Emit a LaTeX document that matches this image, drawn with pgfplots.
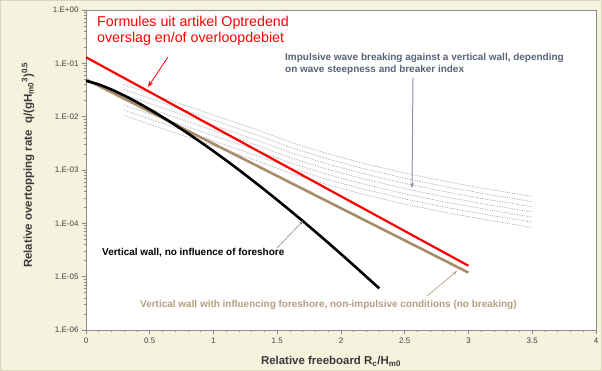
\documentclass[border=0pt]{standalone}
\usepackage{pgfplots}
\pgfplotsset{compat=1.18}
\usetikzlibrary{arrows.meta}
\usepackage{fontspec}
\setmainfont{Liberation Sans}
\definecolor{bgcol}{HTML}{F5F3DE}
\definecolor{bgline}{HTML}{D9D6BC}
\definecolor{axgrey}{HTML}{8C8C8C}
\definecolor{tickgrey}{HTML}{404040}
\definecolor{labgrey}{HTML}{3A3A3A}
\definecolor{dotgrey}{HTML}{9CA2AE}
\definecolor{brownline}{HTML}{A88D68}
\definecolor{browntext}{HTML}{B59F80}
\definecolor{bluegrey}{HTML}{5A6478}
\definecolor{arrowgrey}{HTML}{8B95A5}
\begin{document}
\begin{tikzpicture}
\fill[bgcol] (-86bp,-41bp) rectangle (516bp,330bp);
\draw[bgline, line width=0.8bp] (-85.6bp,-40.6bp) rectangle (515.6bp,329.6bp);
\begin{axis}[
  at={(0bp,0bp)}, anchor=south west,
  scale only axis, width=510bp, height=320bp,
  xmin=0, xmax=4, ymin=1e-6, ymax=1, ymode=log,
  axis background/.style={fill=white},
  axis line style={draw=axgrey, line width=0.8bp},
  xtick={0,0.5,1,1.5,2,2.5,3,3.5,4},
  xticklabels={0,0.5,1,1.5,2,2.5,3,3.5,4},
  minor x tick num=4,
  ytick={1e-6,1e-5,1e-4,1e-3,1e-2,1e-1,1},
  yticklabels={1.E-06,1.E-05,1.E-04,1.E-03,1.E-02,1.E-01,1.E+00},
  tick align=outside, tick pos=left,
  major tick length=4bp, minor tick length=2bp,
  tick style={draw=axgrey, line width=0.6bp},
  ticklabel style={font=\fontsize{8}{9}\selectfont, text=tickgrey},
  /pgf/number format/assume math mode=true,
]
% impulsive wave breaking (dotted)
\addplot[dotgrey, densely dotted, line width=0.7bp] coordinates {(0.3,0.0402) (1.35,0.00556) (1.6,0.00334) (1.9,0.00200) (2.2,0.00129) (2.5,0.000875) (2.8,0.000622) (3.15,0.000438) (3.5,0.000319)};
\addplot[dotgrey, densely dotted, line width=0.7bp] coordinates {(0.3,0.0322) (1.35,0.00445) (1.6,0.00267) (1.9,0.00160) (2.2,0.00103) (2.5,0.000700) (2.8,0.000498) (3.15,0.000350) (3.5,0.000255)};
\addplot[dotgrey, densely dotted, line width=0.7bp] coordinates {(0.3,0.0257) (1.35,0.00356) (1.6,0.00214) (1.9,0.00128) (2.2,0.000826) (2.5,0.000560) (2.8,0.000398) (3.15,0.000280) (3.5,0.000204)};
\addplot[dotgrey, densely dotted, line width=0.7bp] coordinates {(0.3,0.0206) (1.35,0.00285) (1.6,0.00171) (1.9,0.00102) (2.2,0.000660) (2.5,0.000448) (2.8,0.000318) (3.15,0.000224) (3.5,0.000163)};
\addplot[dotgrey, densely dotted, line width=0.7bp] coordinates {(0.3,0.0165) (1.35,0.00228) (1.6,0.00137) (1.9,0.00082) (2.2,0.000529) (2.5,0.000359) (2.8,0.000255) (3.15,0.000180) (3.5,0.000131)};
\addplot[dotgrey, densely dotted, line width=0.7bp] coordinates {(0.3,0.0132) (1.35,0.00182) (1.6,0.00110) (1.9,0.000656) (2.2,0.000423) (2.5,0.000287) (2.8,0.000204) (3.15,0.000144) (3.5,0.000105)};
\addplot[dotgrey, densely dotted, line width=0.7bp] coordinates {(0.3,0.0105) (1.35,0.00146) (1.6,0.000875) (1.9,0.000524) (2.2,0.000338) (2.5,0.000229) (2.8,0.000163) (3.15,0.000115) (3.5,0.0000836)};
% vertical wall with foreshore (brown)
\addplot[brownline, line width=2.6bp] coordinates {(0,0.05) (3,0.0000119)};
% vertical wall, no foreshore (black)
\addplot[black, line width=2.6bp] coordinates {(0,0.047) (0.1,0.04036) (0.2,0.03231) (0.3,0.02491) (0.4,0.01868) (0.5,0.01369) (0.6,0.009846) (0.7,0.006961) (0.8,0.004847) (0.9,0.003328) (1.0,0.002256) (1.1,0.001512) (1.2,0.001002) (1.3,0.000656) (1.4,0.000426) (1.5,0.000274) (1.6,0.0001747) (1.7,0.0001106) (1.8,0.0000693) (1.9,0.0000431) (2.0,0.0000266) (2.1,0.0000163) (2.2,0.00000991) (2.3,0.00000604)};
% formula from article (red)
\addplot[red, line width=2.2bp] coordinates {(0,0.13) (3,0.000016)};
\end{axis}
% annotations
\node[anchor=west, inner sep=0, text=red, font=\fontsize{14.3}{16}\selectfont] at (11bp,307bp) {Formules uit artikel Optredend};
\node[anchor=west, inner sep=0, text=red, font=\fontsize{14.3}{16}\selectfont] at (11bp,291bp) {overslag en/of overloopdebiet};
\draw[red, line width=0.8bp, -{Stealth[length=6bp,width=4.5bp]}] (82bp,273bp) -- (62bp,243bp);
\node[anchor=west, inner sep=0, text=bluegrey, font=\fontsize{10}{12}\selectfont\bfseries] at (199bp,272bp) {Impulsive wave breaking against a vertical wall, depending};
\node[anchor=west, inner sep=0, text=bluegrey, font=\fontsize{10}{12}\selectfont\bfseries] at (199bp,260.5bp) {on wave steepness and breaker index};
\draw[arrowgrey, line width=1bp, -{Stealth[length=5bp,width=4bp]}] (327bp,252bp) -- (326bp,142bp);
\node[anchor=west, inner sep=0, text=black, font=\fontsize{10}{12}\selectfont\bfseries] at (16bp,77bp) {Vertical wall, no influence of foreshore};
\draw[gray, line width=0.5bp, -{Stealth[length=4bp,width=3bp]}] (191bp,82bp) -- (217bp,109bp);
\node[anchor=west, inner sep=0, text=browntext, font=\fontsize{10}{12}\selectfont\bfseries] at (54bp,25bp) {Vertical wall with influencing foreshore, non-impulsive conditions (no breaking)};
\draw[browntext, line width=0.7bp, -{Stealth[length=4bp,width=3bp]}] (341bp,34bp) -- (371bp,59bp);
\node[text=labgrey, font=\fontsize{11.5}{13}\selectfont\bfseries] at (245bp,-31bp) {Relative freeboard R\textsubscript{c}/H\textsubscript{m0}};
\node[text=labgrey, font=\fontsize{11.5}{13}\selectfont\bfseries, rotate=90] at (-58bp,165bp) {Relative overtopping rate\ \ q/(gH\textsubscript{m0}\textsuperscript{3})\textsuperscript{0.5}};
\pgfresetboundingbox
\useasboundingbox (-86bp,-41bp) rectangle (516bp,330bp);
\end{tikzpicture}
\end{document}
